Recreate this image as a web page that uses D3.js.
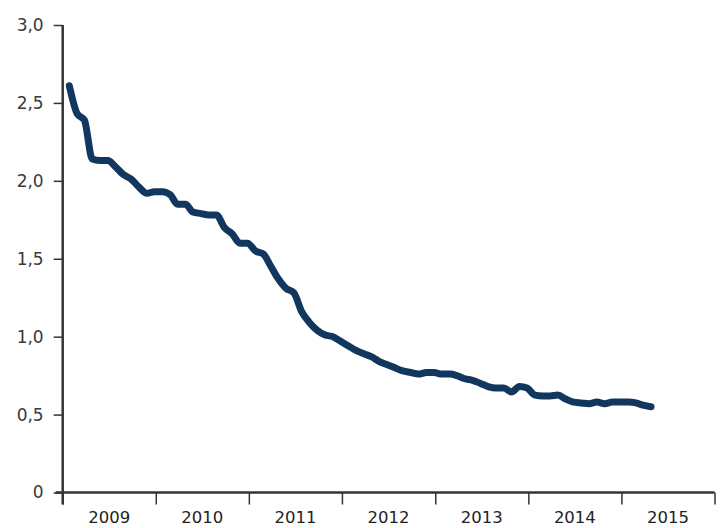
<!DOCTYPE html>
<meta charset="utf-8">
<head>
  <title>Line chart 2009-2015</title>
</head>

<style>
body { margin: 0; background: #fff; }
.axis text { font-family: "DejaVu Sans", sans-serif; fill: #333; }
</style>

<body>
  <div id="content">
    <svg width="722" height="528"></svg>
  </div>

  <script src="https://cdnjs.cloudflare.com/ajax/libs/d3/7.8.5/d3.min.js"></script>

  <script>
var width = 722, height = 528

// monthly values, Jan 2009 .. Apr 2015
var firstMonth = [2009, 0]
var values = [
  2.61, 2.43, 2.39, 2.14, 2.13, 2.13, 2.09, 2.04, 2.01, 1.96, 1.92, 1.93,
  1.93, 1.91, 1.85, 1.85, 1.80, 1.79, 1.78, 1.78, 1.70, 1.66, 1.60, 1.60,
  1.55, 1.53, 1.455, 1.37, 1.31, 1.28, 1.16, 1.09, 1.04, 1.01, 1.00, 0.97,
  0.94, 0.91, 0.89, 0.87, 0.84, 0.82, 0.80, 0.78, 0.77, 0.76, 0.77, 0.77,
  0.76, 0.76, 0.75, 0.73, 0.72, 0.70, 0.68, 0.67, 0.67, 0.645, 0.68, 0.67,
  0.625, 0.62, 0.62, 0.625, 0.60, 0.58, 0.575, 0.57, 0.58, 0.57, 0.58, 0.58,
  0.58, 0.575, 0.56, 0.55
]
var years = [2009, 2010, 2011, 2012, 2013, 2014, 2015]
var yTicks = [0, 0.5, 1.0, 1.5, 2.0, 2.5, 3.0]

var margin = {left: 62.7, top: 25, right: 7.5, bottom: 35.5}

var data = values.map(function(v, i) {
  return {date: new Date(firstMonth[0], firstMonth[1] + i, 27), value: v}
})

var x = d3.scaleTime()
  .domain([new Date(years[0], 0, 1), new Date(years[years.length - 1] + 1, 0, 1)])
  .range([margin.left, width - margin.right])

var y = d3.scaleLinear()
  .domain([0, 3])
  .range([height - margin.bottom, margin.top])

var svg = d3.select('svg')

// y axis
var yAxis = svg.append('g')
  .attr('class', 'axis')
  .attr('transform', 'translate(' + margin.left + ',0)')
  .call(d3.axisLeft(y)
    .tickValues(yTicks)
    .tickSize(9)
    .tickPadding(10)
    .tickFormat(function(d) {
      return d === 0 ? '0' : d3.format('.1f')(d).replace('.', ',')
    }))
yAxis.select('.domain').remove()
yAxis.selectAll('.tick line').attr('stroke', '#333').attr('stroke-width', 1.5)
yAxis.selectAll('text')
  .style('font-size', '17px')
  .style('fill', '#3a3a3a')

svg.append('line')
  .attr('x1', margin.left).attr('x2', margin.left)
  .attr('y1', y(3)).attr('y2', y(0) + 12)
  .attr('stroke', '#333').attr('stroke-width', 2.5)

// x axis
var xAxis = svg.append('g')
  .attr('class', 'axis')
  .attr('transform', 'translate(0,' + y(0) + ')')
  .call(d3.axisBottom(x)
    .tickValues(years.concat([years[years.length - 1] + 1]).map(function(yr) { return new Date(yr, 0, 1) }))
    .tickSize(12)
    .tickFormat(''))
xAxis.select('.domain').remove()
xAxis.selectAll('.tick line').attr('stroke', '#333').attr('stroke-width', 1.5)

svg.append('line')
  .attr('x1', margin.left - 7).attr('x2', x.range()[1])
  .attr('y1', y(0)).attr('y2', y(0))
  .attr('stroke', '#333').attr('stroke-width', 2.5)

svg.append('g')
  .attr('class', 'axis')
  .selectAll('text')
  .data(years)
  .enter()
  .append('text')
    .attr('x', function(d) { return (x(new Date(d, 0, 1)) + x(new Date(d + 1, 0, 1))) / 2 })
    .attr('y', 523)
    .attr('text-anchor', 'middle')
    .style('font-size', '16.5px')
    .style('font-weight', '500')
    .style('fill', '#222')
    .text(function(d) { return d })

// the line
var line = d3.line()
  .x(function(d) { return x(d.date) })
  .y(function(d) { return y(d.value) })
  .curve(d3.curveMonotoneX)

svg.append('path')
  .datum(data)
  .attr('d', line)
  .attr('fill', 'none')
  .attr('stroke', '#12375f')
  .attr('stroke-width', 7)
  .attr('stroke-linecap', 'round')
  .attr('stroke-linejoin', 'round')
  </script>
</body>
</html>
